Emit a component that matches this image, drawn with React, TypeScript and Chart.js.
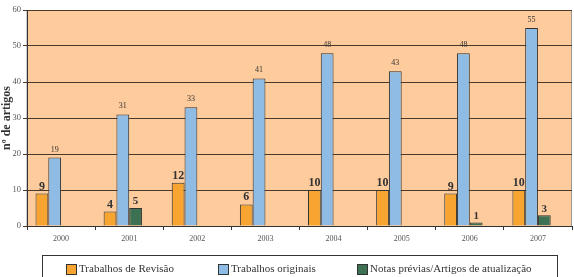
import React, { useEffect, useRef } from "react";
import { Chart, registerables } from "chart.js";
Chart.register(...registerables);

const years = ["2000", "2001", "2002", "2003", "2004", "2005", "2006", "2007"];
const revisao = [9, 4, 12, 6, 10, 10, 9, 10];
const originais = [19, 31, 33, 41, 48, 43, 48, 55];
const notas = [null, 5, null, null, null, null, 1, 3];
// empty fourth series slot present in the original spreadsheet chart
const vazio = [null, null, null, null, null, null, null, null];
const seriesNames = ["Trabalhos de Revisão", "Trabalhos originais", "Notas prévias/Artigos de atualização", ""];
const colors = ["#F7A530", "#8EBCE4", "#3C7253", "rgba(0,0,0,0)"];
const yTicks = [0, 10, 20, 30, 40, 50, 60];

const bgPlugin = {
  id: "bg",
  beforeDraw(chart: any) {
    const { ctx, chartArea: a } = chart;
    ctx.save();
    ctx.fillStyle = "#FDCB9C";
    ctx.fillRect(a.left, a.top, a.right - a.left, a.bottom - a.top);
    ctx.strokeStyle = "#9a9a9a";
    ctx.lineWidth = 1;
    ctx.strokeRect(a.left, a.top + 0.5, a.right - a.left - 0.5, a.bottom - a.top);
    ctx.restore();
  },
};

const labelPlugin = {
  id: "vals",
  afterDatasetsDraw(chart: any) {
    const { ctx } = chart;
    const fonts = ["bold 12px 'Liberation Serif', serif", "8px 'Liberation Serif', serif", "bold 11px 'Liberation Serif', serif"];
    ctx.save();
    ctx.textAlign = "center";
    ctx.textBaseline = "bottom";
    chart.data.datasets.forEach((ds: any, i: number) => {
      if (i > 2) return;
      const meta = chart.getDatasetMeta(i);
      meta.data.forEach((bar: any, j: number) => {
        const v = ds.data[j];
        if (v === null || v === undefined) return;
        ctx.font = fonts[i];
        ctx.fillStyle = "#333";
        ctx.fillText(String(v), bar.x, bar.y - (i === 1 ? 4 : 1));
      });
    });
    ctx.restore();
  },
};

export default function App() {
  const ref = useRef<HTMLCanvasElement>(null);
  useEffect(() => {
    document.body.style.margin = "0";
    const chart = new Chart(ref.current!, {
      type: "bar",
      data: {
        labels: years,
        datasets: [revisao, originais, notas, vazio].map((d, i) => ({
          label: seriesNames[i],
          data: d as any,
          backgroundColor: colors[i],
          borderColor: "#333",
          borderWidth: 1,
          categoryPercentage: 0.75,
          barPercentage: 1,
        })),
      },
      options: {
        animation: false,
        responsive: false,
        maintainAspectRatio: false,
        layout: { padding: { top: 10, right: 2, bottom: 31, left: 0 } },
        plugins: { legend: { display: false }, tooltip: { enabled: false } },
        scales: {
          x: {
            grid: { display: true, drawOnChartArea: false, drawTicks: true, tickLength: 4, color: "#333", offset: true },
            border: { display: true, color: "#333", width: 1 },
            ticks: { color: "#555", font: { family: "'Liberation Serif', serif", size: 8 }, padding: 4 },
            afterFit: (s: any) => { s.height = 20; },
          },
          y: {
            min: 0,
            max: 60,
            afterBuildTicks: (s: any) => { s.ticks = yTicks.map((v) => ({ value: v })); },
            grid: { color: "#4a3a2c", lineWidth: 1, drawTicks: true, tickLength: 4 },
            border: { display: true, color: "#333", width: 1 },
            ticks: { color: "#555", font: { family: "'Liberation Serif', serif", size: 8.5 }, padding: 2 },
            title: { display: true, text: "nº de artigos", color: "#333", font: { family: "'Liberation Serif', serif", size: 12, weight: "bold" }, padding: { top: 0, bottom: 0 } },
            afterFit: (s: any) => { s.width = 27; },
          },
        },
      },
      plugins: [bgPlugin, labelPlugin],
    });
    return () => chart.destroy();
  }, []);

  const sq = (c: string) => (
    <span style={{ display: "inline-block", width: 9, height: 9, background: c, border: "1px solid #333", marginRight: 2, verticalAlign: "top", marginTop: 2 }} />
  );

  return (
    <div style={{ position: "relative", width: 574, height: 277, overflow: "hidden", background: "#fff" }}>
      <canvas ref={ref} width={574} height={277} style={{ display: "block" }} />
      <div
        style={{
          position: "absolute",
          left: 42,
          top: 255,
          width: 516,
          height: 40,
          border: "1px solid #333",
          fontFamily: "'Liberation Serif', serif",
          fontSize: 11,
          color: "#333",
          boxSizing: "border-box",
        }}
      >
        <div style={{ position: "absolute", left: 23, top: 6, whiteSpace: "nowrap" }}>{sq(colors[0])}{seriesNames[0]}</div>
        <div style={{ position: "absolute", left: 175, top: 6, whiteSpace: "nowrap" }}>{sq(colors[1])}{seriesNames[1]}</div>
        <div style={{ position: "absolute", left: 314, top: 6, whiteSpace: "nowrap" }}>{sq(colors[2])}{seriesNames[2]}</div>
      </div>
    </div>
  );
}
